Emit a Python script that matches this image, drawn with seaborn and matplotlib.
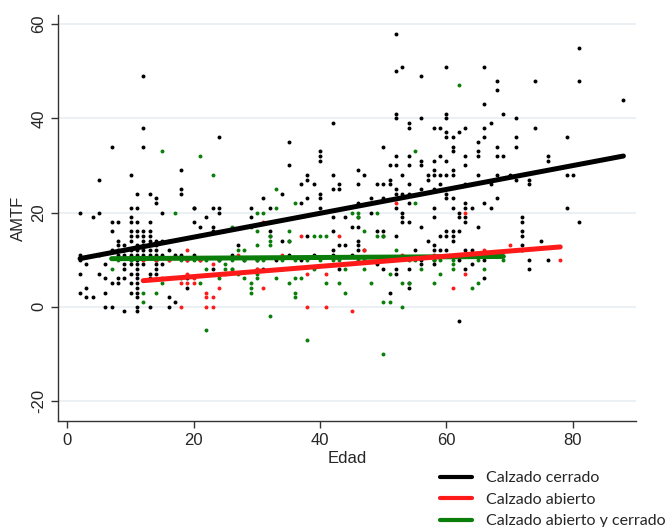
"""Scatter of AMTF against age with one linear fit per footwear group."""

import matplotlib.pyplot as plt
from matplotlib.lines import Line2D
import pandas as pd
import seaborn as sns

CLOSED = "Calzado cerrado"
OPEN = "Calzado abierto"
MIXED = "Calzado abierto y cerrado"

# Calzado cerrado (black)
closed_age = [
  52, 52, 53, 60, 66, 56, 68, 68, 74, 81, 81, 88, 66, 12,
  42, 52, 52, 54, 54, 56, 58, 59, 60, 60, 60, 60, 61, 62, 63, 66, 66, 65, 67, 69,
  71, 71, 71, 74, 79, 61, 61, 50, 52, 54, 59, 63, 65, 65, 68, 68, 69, 76, 76,
  51, 52, 54, 56, 56, 58, 60, 63, 46, 47, 42, 53, 57, 58, 58, 59, 60, 61, 61,
  65, 68, 70, 79, 80, 57, 51, 51, 42, 43, 43, 46, 49, 50, 54, 59, 63, 67, 71,
  73, 73, 52, 52, 53, 54, 48, 50, 56, 58, 60, 60, 61, 46, 54, 63, 63, 66, 68,
  52, 58, 61, 64, 67, 79, 42, 44, 46, 48, 53, 53, 53, 54, 58, 62, 62, 63, 63,
  72, 72, 81, 45, 46, 56, 65,
  24, 35, 40, 40, 40, 35, 38, 38, 37, 39, 34, 40, 38, 31, 40, 37, 14, 14, 40,
  32, 24, 23, 29, 20, 24, 22, 29,
  2, 4, 5, 5, 7, 10, 10, 10, 10, 11, 11, 11, 12, 12, 13, 13, 7, 8, 15, 18, 18,
  18, 20, 20,
  7, 10, 11, 12, 13,
  10, 11, 12, 13,
  8, 10, 12, 13, 14, 15,
  8, 9, 11, 12, 14,
  7, 8, 9, 10, 11, 12, 13, 14,
  2, 5, 8, 9, 10, 11, 12, 13, 14, 15,
  2, 10, 11, 14,
  3, 6, 9, 10, 11, 12, 14, 15,
  9, 11, 14,
  2, 5, 10, 11, 13, 14,
  6, 8, 9, 11, 13,
  7, 8, 10, 11,
  3, 11,
  2, 6, 10, 11,
  3, 4, 11, 16,
  17,
  6, 7, 11, 13, 16,
  9, 11,
  16, 17, 18, 19, 19, 19, 20, 21, 21, 23, 23, 23, 24, 27, 28, 26, 30, 33, 31,
  35, 37, 32, 32, 34, 35, 38, 39,
  42, 43, 42, 42, 44, 46, 46, 46, 47, 45, 43, 49, 50, 50, 52, 49, 50, 52, 52,
  54, 51, 54, 54, 55, 56, 56, 57, 58, 58, 58, 58, 59, 59, 60, 61, 61, 61, 62,
  60, 60, 62, 63, 64, 63, 64, 66, 66, 73, 73, 71, 72, 72, 72, 72, 75, 76, 62,
]
closed_amtf = [
  58, 50, 51, 51, 51, 49, 48, 46, 48, 55, 48, 44, 43, 49,
  39, 41, 40, 39, 38, 40, 38, 38, 41, 40, 37, 36, 36, 37, 38, 38, 36, 35, 39, 41,
  40, 36, 34, 38, 36, 34, 33, 34, 32, 32, 32, 32, 33, 32, 34, 32, 32, 32, 31,
  30, 30, 30, 31, 30, 31, 31, 30, 29, 28, 28, 28, 28, 29, 28, 28, 28, 29, 28,
  28, 28, 28, 28, 28, 27, 27, 26, 25, 26, 25, 26, 26, 26, 26, 26, 26, 26, 27,
  27, 26, 25, 24, 24, 24, 23, 23, 25, 25, 24, 23, 23, 22, 22, 22, 21, 22, 23,
  21, 21, 21, 21, 21, 21, 19, 19, 19, 20, 20, 19, 18, 18, 19, 19, 20, 19, 18,
  19, 18, 18, 17, 17, 17, 17,
  36, 35, 33, 32, 31, 30, 28, 27, 26, 26, 24, 24, 23, 23, 23, 22, 22, 23, 21,
  21, 21, 21, 21, 21, 20, 19, 19,
  20, 19, 20, 27, 34, 28, 21, 19, 18, 21, 18, 24, 34, 38, 24, 18, 18, 18, 20,
  29, 25, 24, 21, 18,
  16, 16, 16, 16, 16,
  15, 15, 15, 15,
  14, 14, 14, 14, 14, 14,
  13, 13, 13, 13, 13,
  12, 12, 12, 12, 12, 12, 12, 12,
  11, 11, 11, 11, 11, 11, 11, 11, 11, 11,
  10, 10, 10, 10,
  9, 9, 9, 9, 9, 9, 9, 9,
  8, 8, 8,
  7, 7, 7, 7, 7, 7,
  6, 6, 6, 6, 6,
  5, 5, 5, 5,
  4, 4,
  3, 3, 3, 3,
  2, 2, 2, 2,
  1,
  0, 0, 0, 0, 0,
  -1, -1,
  12, 11, 11, 10, 6, 4, 11, 17, 10, 17, 16, 8, 10, 13, 10, 11, 10, 10, 8,
  11, 10, 15, 16, 14, 14, 15, 11,
  16, 13, 12, 11, 13, 14, 13, 12, 12, 11, 8, 16, 16, 15, 15, 9, 8, 7, 8,
  8, 3, 5, 4, 12, 10, 9, 14, 13, 12, 10, 9, 15, 12, 16, 16, 15, 14, 16,
  15, 12, 10, 12, 12, 8, 9, 10, 6, 10, 8, 12, 13, 12, 16, 15, 14, 10, -3,
]

# Calzado abierto (red); the last ones sit under the fitted lines
open_age = [12, 18, 18, 19, 20, 19, 20, 23, 22, 22, 22, 23, 23, 24, 31, 31, 37,
            43, 38, 41, 38, 41, 45, 61, 63, 63, 78, 19,
            19, 21, 27, 34, 47, 53, 58, 70, 52, 15, 25, 30, 14, 16, 66]
open_amtf = [10, 0, 5, 5, 5, 12, 6, 9, 3, 2, 0, 2, 0, 4, 18, 4, 15,
             15, 7, 7, 0, 0, -1, 4, 7, 20, 10, 7,
             10, 10, 11, 11, 12, 11, 11, 13, 22, 6, 7, 8, 10, 10, 12]

# Calzado abierto y cerrado (green)
mixed_age = [
  62, 55, 15, 21, 23, 33, 36, 55, 17, 33, 30, 31, 49, 46, 46, 45,
  26, 29, 30, 35, 47, 16, 32, 32, 32, 30, 35, 39, 40, 41, 49, 50, 27, 28, 52,
  8, 12, 16, 20, 24, 28, 31, 36, 40, 43, 47, 51, 55, 59, 63, 66, 69,
  10, 14, 18, 22, 26, 30, 34, 38, 42, 46, 50, 54, 58, 61, 65,
  7, 12, 15, 18, 21, 24, 25, 25, 26, 27, 28, 29, 29, 29, 30, 30, 30, 33, 35,
  36, 37, 36, 36, 41, 43, 44, 48, 51, 44, 53, 54, 58, 59, 56, 61, 61, 66, 65,
  64, 50, 51, 53, 12, 22, 32, 38, 50, 39,
  14, 22, 26, 34, 47,
]
mixed_amtf = [
  47, 33, 33, 32, 28, 25, 22, 22, 20, 21, 20, 20, 20, 20, 19, 20,
  17, 17, 16, 16, 16, 14, 15, 14, 13, 13, 14, 15, 15, 15, 15, 15, 12, 12, 12,
  10, 10, 10, 10, 10, 10, 10, 10, 10, 10, 10, 10, 10, 10, 11, 11, 10,
  10, 10, 10, 10, 10, 10, 10, 10, 10, 10, 10, 10, 10, 10, 10,
  8, 3, 5, 6, 5, 6, 9, 8, 8, 7, 6, 5, 4, 3, 8, 7, 6, 6, 5,
  6, 6, 3, 2, 5, 5, 3, 5, 7, 8, 5, 5, 5, 7, 8, 9, 8, 8, 5,
  4, 1, 1, 0, 1, -5, -2, -7, -10, 8,
  3, 8, 8, 8, 8,
]

GROUPS = [
  (CLOSED, closed_age, closed_amtf, "black"),
  (MIXED, mixed_age, mixed_amtf, "#0a7d0a"),
  (OPEN, open_age, open_amtf, "#ff1a1a"),
]

df = pd.concat(
    [pd.DataFrame({"Edad": ages, "AMTF": vals, "grupo": name})
     for name, ages, vals, _ in GROUPS],
    ignore_index=True)

sns.set_style("white")
plt.rcParams["font.family"] = ["Liberation Sans", "DejaVu Sans"]
plt.rcParams["axes.unicode_minus"] = False

fig = plt.figure(figsize=(6.66, 5.27), dpi=100)
ax = fig.add_axes([0.087, 0.201, 0.868, 0.771])

# Points first, then the fitted lines on top
for name, _, _, color in GROUPS:
  sub = df[df["grupo"] == name]
  sns.scatterplot(data=sub, x="Edad", y="AMTF", color=color, s=8,
      linewidth=0, ax=ax, zorder=2)
for name, _, _, color in GROUPS:
  sub = df[df["grupo"] == name]
  sns.regplot(data=sub, x="Edad", y="AMTF", scatter=False, ci=None,
      truncate=True, color=color, line_kws={"linewidth": 3.6,
      "solid_capstyle": "round", "zorder": 3}, ax=ax)

ax.set_xlim(-1.5, 90)
ax.set_ylim(-24.3, 62)
ax.set_xticks([0, 20, 40, 60, 80])
ax.set_yticks([-20, 0, 20, 40, 60])
ax.grid(axis="y", color="#e6edf1", linewidth=1.2, zorder=0)
ax.set_axisbelow(True)
for side in ["top", "right"]:
  ax.spines[side].set_visible(False)
for side in ["left", "bottom"]:
  ax.spines[side].set_color("#333333")
  ax.spines[side].set_linewidth(1.0)
ax.tick_params(axis="both", direction="out", length=5, width=1,
    color="#333333", labelsize=12, left=True, bottom=True)
ax.tick_params(axis="y", labelrotation=90)
for lab in ax.get_yticklabels():
  lab.set_verticalalignment("center")
ax.set_xlabel("Edad", fontsize=12, labelpad=2)
ax.set_ylabel("AMTF", fontsize=12, labelpad=4)

handles = [Line2D([], [], color=c, linewidth=3) for c in
    ["black", "#ff1a1a", "#0a7d0a"]]
fig.legend(handles, [CLOSED, OPEN, MIXED], loc="upper left",
    bbox_to_anchor=(0.651, 0.118), frameon=False, handlelength=2.0,
    handletextpad=0.9, labelspacing=0.45, borderaxespad=0,
    prop={"family": "Lato", "size": 11.5})

fig.savefig("out.png", dpi=100)
